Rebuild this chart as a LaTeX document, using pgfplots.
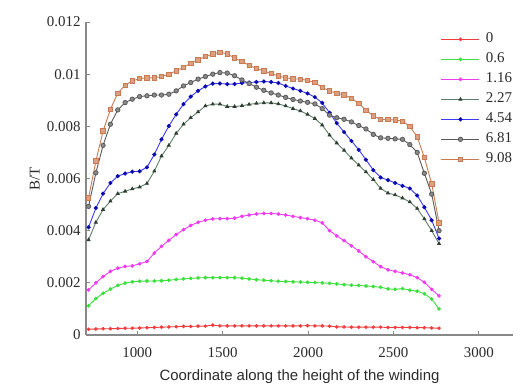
\documentclass[border=0pt]{standalone}
\usepackage{pgfplots}
\pgfplotsset{compat=1.18}
\usepackage{pgfplotstable}
\usepackage{fontspec}
\setmainfont{Liberation Serif}
\newfontfamily\arialfont{Liberation Sans}
\definecolor{cRed}{HTML}{F03C3C}
\definecolor{cGreen}{HTML}{3CE03C}
\definecolor{cMag}{HTML}{F03CF0}
\definecolor{cDG}{HTML}{5E7E68}
\definecolor{cDGm}{HTML}{2E3E32}
\definecolor{cBlue}{HTML}{3A3AF0}
\definecolor{cBluem}{HTML}{0A0AB0}
\definecolor{cGray}{HTML}{5A5A5A}
\definecolor{cGraym}{HTML}{8A8A8A}
\definecolor{cBrown}{HTML}{C87A52}
\definecolor{cBrownm}{HTML}{DDA07E}
\definecolor{cText}{HTML}{2A2A2A}
\definecolor{cAxis}{HTML}{888888}

\pgfplotstableread{
x s0 s1 s2 s3 s4 s5 s6
715 0.00022 0.00112 0.00173 0.00365 0.00413 0.00493 0.00526
758 0.00023 0.00140 0.00200 0.00432 0.00487 0.00622 0.00667
800 0.00024 0.00160 0.00224 0.00481 0.00542 0.00727 0.00782
843 0.00024 0.00176 0.00244 0.00513 0.00583 0.00808 0.00865
886 0.00025 0.00190 0.00256 0.00542 0.00609 0.00863 0.00927
929 0.00026 0.00199 0.00263 0.00551 0.00619 0.00891 0.00958
971 0.00026 0.00204 0.00265 0.00560 0.00626 0.00904 0.00974
1014 0.00027 0.00206 0.00273 0.00567 0.00628 0.00914 0.00983
1057 0.00028 0.00207 0.00282 0.00581 0.00643 0.00917 0.00986
1100 0.00029 0.00207 0.00314 0.00628 0.00692 0.00920 0.00986
1142 0.00030 0.00208 0.00340 0.00686 0.00750 0.00920 0.00991
1185 0.00031 0.00210 0.00363 0.00727 0.00801 0.00923 0.01000
1228 0.00032 0.00213 0.00385 0.00773 0.00846 0.00936 0.01013
1271 0.00033 0.00215 0.00404 0.00808 0.00885 0.00955 0.01026
1313 0.00033 0.00217 0.00420 0.00833 0.00914 0.00968 0.01042
1356 0.00034 0.00219 0.00432 0.00855 0.00936 0.00981 0.01055
1399 0.00034 0.00220 0.00440 0.00878 0.00953 0.00991 0.01068
1442 0.00038 0.00220 0.00445 0.00885 0.00964 0.01000 0.01077
1484 0.00035 0.00220 0.00446 0.00885 0.00964 0.01006 0.01084
1527 0.00035 0.00220 0.00446 0.00876 0.00962 0.01004 0.01078
1570 0.00035 0.00220 0.00448 0.00876 0.00962 0.00994 0.01062
1613 0.00035 0.00218 0.00455 0.00879 0.00966 0.00978 0.01048
1655 0.00035 0.00215 0.00460 0.00884 0.00968 0.00964 0.01034
1698 0.00035 0.00212 0.00464 0.00888 0.00970 0.00950 0.01022
1741 0.00035 0.00210 0.00466 0.00890 0.00972 0.00938 0.01012
1784 0.00035 0.00208 0.00466 0.00890 0.00970 0.00928 0.01002
1826 0.00035 0.00206 0.00464 0.00886 0.00966 0.00920 0.00993
1869 0.00035 0.00205 0.00460 0.00878 0.00955 0.00911 0.00986
1912 0.00035 0.00204 0.00455 0.00868 0.00945 0.00903 0.00982
1955 0.00035 0.00203 0.00450 0.00859 0.00936 0.00897 0.00981
1997 0.00036 0.00202 0.00446 0.00846 0.00926 0.00892 0.00976
2040 0.00035 0.00201 0.00440 0.00830 0.00912 0.00886 0.00968
2083 0.00035 0.00200 0.00430 0.00805 0.00890 0.00868 0.00949
2126 0.00034 0.00198 0.00400 0.00766 0.00852 0.00843 0.00936
2168 0.00031 0.00196 0.00380 0.00736 0.00812 0.00833 0.00927
2211 0.00031 0.00193 0.00362 0.00708 0.00778 0.00827 0.00920
2254 0.00030 0.00191 0.00342 0.00678 0.00744 0.00817 0.00908
2297 0.00030 0.00190 0.00322 0.00651 0.00710 0.00803 0.00888
2339 0.00030 0.00188 0.00300 0.00625 0.00672 0.00790 0.00862
2382 0.00030 0.00186 0.00281 0.00596 0.00632 0.00769 0.00840
2425 0.00030 0.00183 0.00262 0.00562 0.00604 0.00756 0.00826
2468 0.00029 0.00177 0.00250 0.00544 0.00594 0.00754 0.00826
2510 0.00029 0.00175 0.00244 0.00537 0.00583 0.00752 0.00824
2553 0.00029 0.00178 0.00238 0.00525 0.00572 0.00750 0.00820
2596 0.00029 0.00172 0.00231 0.00510 0.00562 0.00730 0.00800
2639 0.00028 0.00168 0.00220 0.00485 0.00535 0.00700 0.00760
2681 0.00028 0.00158 0.00202 0.00445 0.00490 0.00620 0.00680
2724 0.00027 0.00138 0.00175 0.00400 0.00440 0.00540 0.00580
2767 0.00026 0.00100 0.00150 0.00350 0.00370 0.00400 0.00430
}\datatable

\pgfplotsset{
  legend image code/.code={%
    \draw[mark repeat=2,mark phase=2,#1] plot coordinates {(0bp,0bp) (19bp,0bp) (38bp,0bp)};%
  },
}

\begin{document}
\begin{tikzpicture}
\path (-86bp,-54bp) rectangle (438bp,335bp);
\begin{axis}[
  at={(0bp,0bp)}, anchor=south west,
  scale only axis, width=427bp, height=313bp,
  xmin=700, xmax=3200, ymin=0, ymax=0.012,
  axis lines=left,
  axis line style={-, cAxis, line width=1.3pt},
  tick align=inside,
  major tick length=4bp,
  tick style={cAxis, line width=1pt},
  xtick={1000,1500,2000,2500,3000},
  ytick={0,0.002,0.004,0.006,0.008,0.01,0.012},
  scaled y ticks=false,
  scaled x ticks=false,
  /pgf/number format/assume math mode=true,
  xticklabel style={font=\fontsize{15}{17}\selectfont, text=cText, anchor=base, yshift=-22bp, /pgf/number format/1000 sep={}},
  yticklabel style={font=\fontsize{15}{17}\selectfont, text=cText, anchor=east, xshift=-2bp, /pgf/number format/fixed, /pgf/number format/precision=3},
  xlabel={Coordinate along the height of the winding},
  xlabel style={font=\arialfont\fontsize{15}{17}\selectfont, text=cText, at={(axis description cs:0.5,0)}, anchor=center, yshift=-42bp},
  ylabel={B/T},
  ylabel style={font=\fontsize{15}{17}\selectfont, text=cText, at={(axis description cs:-0.12,0.5)}, anchor=center},
  legend style={draw=none, fill=none, at={(rel axis cs:0.831,0.966)}, anchor=north west,
    font=\fontsize{15}{17}\selectfont, text=cText, inner sep=0pt, row sep=7bp,
    nodes={inner sep=0pt, text height=10bp, text depth=3bp},
    /tikz/every odd column/.append style={column sep=6bp}},
  legend cell align=left,
  every axis plot/.append style={line width=0.9pt},
]
\addplot[cRed, mark=*, mark size=1.3bp, mark options={fill=cRed, draw=cRed}] table[x=x,y=s0] {\datatable};
\addlegendentry{0}
\addplot[cGreen, mark=*, mark size=1.4bp, mark options={fill=cGreen, draw=cGreen}] table[x=x,y=s1] {\datatable};
\addlegendentry{0.6}
\addplot[cMag, mark=*, mark size=1.4bp, mark options={fill=cMag, draw=cMag}] table[x=x,y=s2] {\datatable};
\addlegendentry{1.16}
\addplot[cDG, mark=triangle*, mark size=1.6bp, mark options={fill=cDGm, draw=cDGm}] table[x=x,y=s3] {\datatable};
\addlegendentry{2.27}
\addplot[cBlue, mark=*, mark size=1.6bp, mark options={fill=cBluem, draw=cBluem}] table[x=x,y=s4] {\datatable};
\addlegendentry{4.54}
\addplot[cGray, mark=*, mark size=2.2bp, mark options={fill=cGraym, draw=cGray, line width=0.8pt}] table[x=x,y=s5] {\datatable};
\addlegendentry{6.81}
\addplot[cBrown, mark=square*, mark size=2.2bp, mark options={fill=cBrownm, draw=cBrown, line width=0.8pt}] table[x=x,y=s6] {\datatable};
\addlegendentry{9.08}
\end{axis}
\end{tikzpicture}
\end{document}
